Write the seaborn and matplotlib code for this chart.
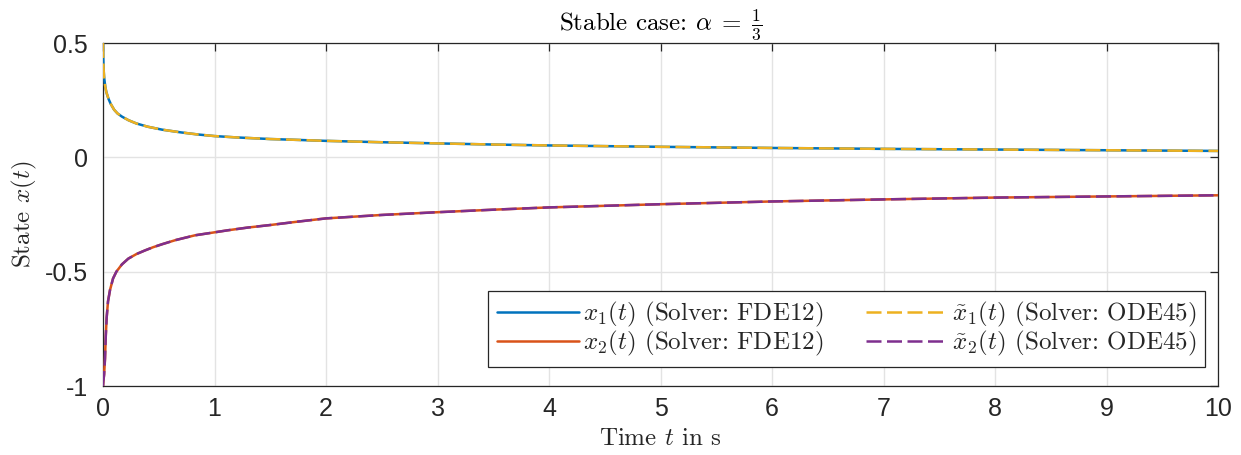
import numpy as np
import pandas as pd
import matplotlib
matplotlib.use("Agg")
import matplotlib.pyplot as plt
import seaborn as sns

# ---- data ----
t1 = [0, 0.002, 0.005, 0.01, 0.02, 0.03, 0.04, 0.05, 0.07, 0.1, 0.13, 0.17, 0.23, 0.3,
      0.4, 0.53, 0.7, 0.85, 1.0, 1.2, 1.5, 1.7, 2, 2.5, 3, 3.5, 4, 5, 6, 7, 8, 9, 10]
x1 = [0.5, 0.44, 0.39, 0.35, 0.31, 0.285, 0.27, 0.255, 0.233, 0.208, 0.192, 0.178,
      0.162, 0.148, 0.134, 0.121, 0.109, 0.100, 0.093, 0.087, 0.080, 0.077, 0.072,
      0.066, 0.061, 0.056, 0.052, 0.046, 0.041, 0.037, 0.034, 0.031, 0.028]
t2 = [0, 0.003, 0.01, 0.018, 0.025, 0.033, 0.045, 0.063, 0.09, 0.12, 0.17, 0.227, 0.3,
      0.377, 0.45, 0.53, 0.65, 0.825, 1.0, 1.12, 1.3, 1.5, 1.75, 2, 2.5, 3, 3.5, 4, 5,
      6, 7, 8, 9, 10]
x2 = [-1.0, -0.98, -0.95, -0.88, -0.78, -0.70, -0.63, -0.58, -0.53, -0.50, -0.468,
      -0.443, -0.423, -0.407, -0.393, -0.380, -0.362, -0.341, -0.328, -0.319, -0.307,
      -0.296, -0.281, -0.267, -0.252, -0.240, -0.229, -0.219, -0.205, -0.193, -0.184,
      -0.176, -0.171, -0.166]

series = ["x1", "x2", "xt1", "xt2"]
legend_labels = [r"$x_1(t)$ (Solver: FDE12)", r"$x_2(t)$ (Solver: FDE12)",
                 r"$\tilde{x}_1(t)$ (Solver: ODE45)", r"$\tilde{x}_2(t)$ (Solver: ODE45)"]
xticks = [0, 1, 2, 3, 4, 5, 6, 7, 8, 9, 10]
yticks = [0.5, 0, -0.5, -1]
ytick_labels = ["0.5", "0", "-0.5", "-1"]

frames = []
for name, t, x in [("x1", t1, x1), ("x2", t2, x2), ("xt1", t1, x1), ("xt2", t2, x2)]:
    frames.append(pd.DataFrame({"t": t, "x": x, "series": name}))
df = pd.concat(frames, ignore_index=True)

palette = {"x1": "#0072BD", "x2": "#D95319", "xt1": "#EDB120", "xt2": "#7E2F8E"}
dashes = {"x1": "", "x2": "", "xt1": (6, 2.2), "xt2": (6, 2.2)}

sns.set_style("white")
plt.rcParams["mathtext.fontset"] = "cm"
serif = "cmr10"
sans = ["Liberation Sans", "DejaVu Sans"]
FS = 18

fig = plt.figure(figsize=(12.41, 4.55), dpi=100)
ax = fig.add_axes([103 / 1241, 69 / 455, 1115 / 1241, 343 / 455])

sns.lineplot(data=df, x="t", y="x", hue="series", style="series",
             hue_order=series, style_order=series, palette=palette, dashes=dashes,
             linewidth=1.8, ax=ax, legend=False, sort=False, estimator=None, zorder=3)

ax.set_xlim(0, 10)
ax.set_ylim(-1, 0.5)
ax.set_xticks(xticks)
ax.set_xticklabels([str(v) for v in xticks], fontfamily=sans, fontsize=FS, color="#262626")
ax.set_yticks(yticks)
ax.set_yticklabels(ytick_labels, fontfamily=sans, fontsize=FS, color="#262626")
ax.grid(True, color="#e3e3e3", linewidth=1.0)
ax.set_axisbelow(True)
for s in ax.spines.values():
    s.set_color("#262626")
    s.set_linewidth(0.9)
    s.set_visible(True)
ax.tick_params(direction="in", length=6, width=0.9, color="#262626",
               top=True, right=True)
ax.tick_params(axis="x", pad=8)
ax.tick_params(axis="y", pad=11)

ax.set_xlabel(r"Time $t$ in s", fontfamily=serif, fontsize=FS, color="#262626")
ax.xaxis.set_label_coords(0.5, -0.122)
ax.set_ylabel(r"State $x(t)$", fontfamily=serif, fontsize=FS, color="#262626")
ax.yaxis.set_label_coords(-0.0575, 0.5)
ax.set_title(r"Stable case: $\alpha\;=\;\frac{1}{3}$", fontfamily=serif, fontsize=FS,
             color="black", pad=0, y=1.038)

handles = ax.get_lines()[:4]
leg = ax.legend(handles, legend_labels, ncol=2, loc="lower right",
                bbox_to_anchor=(0.9885, 0.0554), borderaxespad=0,
                prop={"family": serif, "size": FS},
                handlelength=3.3, handletextpad=0.15, columnspacing=1.7,
                labelspacing=0.0, borderpad=0.35, frameon=True, fancybox=False,
                framealpha=1)
leg.get_frame().set_edgecolor("#262626")
leg.get_frame().set_linewidth(0.9)

fig.savefig("out.png", dpi=100)
